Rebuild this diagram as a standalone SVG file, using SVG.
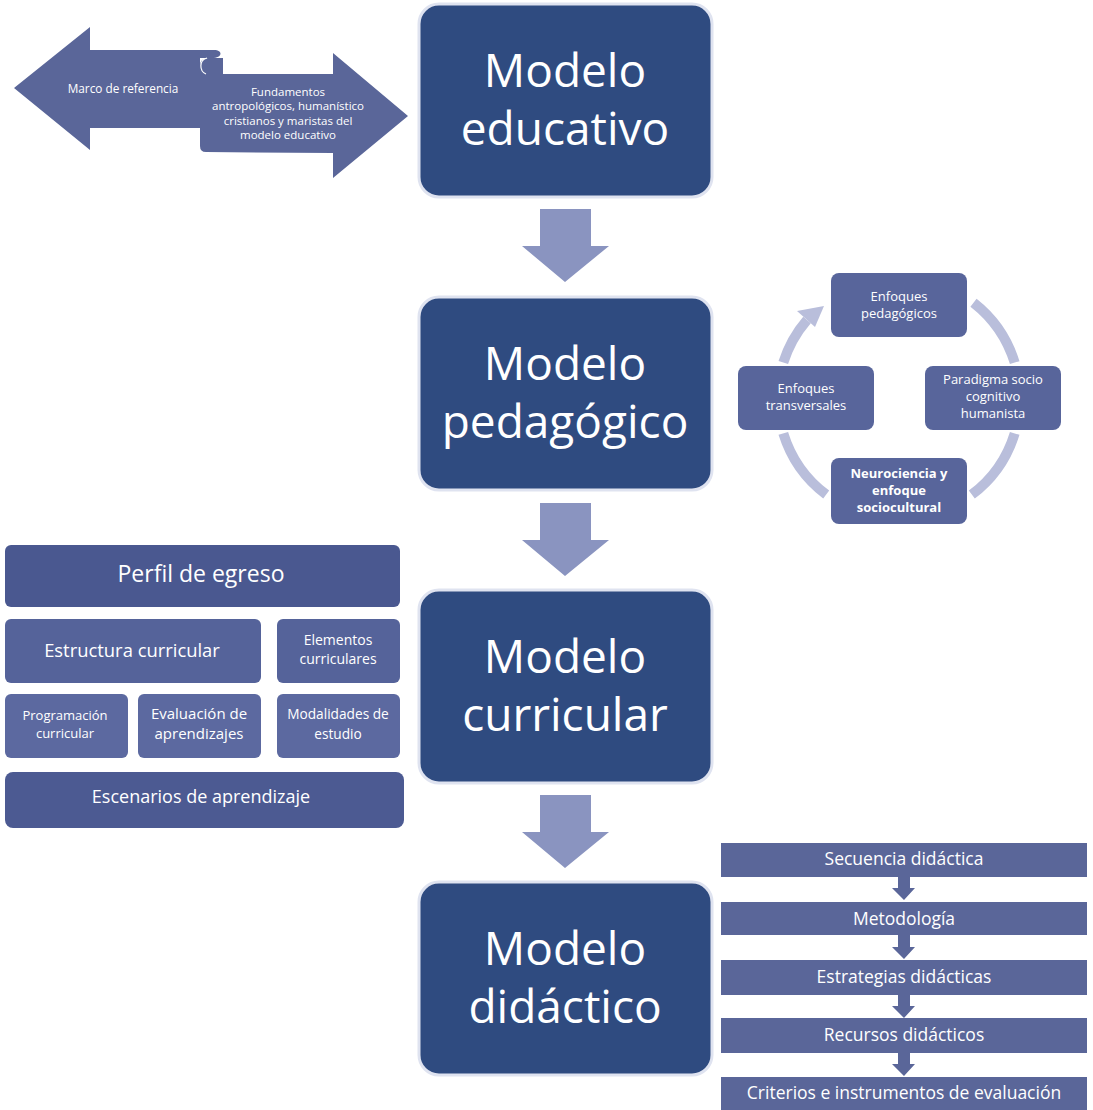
<svg xmlns="http://www.w3.org/2000/svg" width="1093" height="1110" viewBox="0 0 1093 1110">
<defs>
<style>
text{font-family:"Open Sans","Liberation Sans",sans-serif;fill:#ffffff;text-anchor:middle}
.main rect{fill:#2f4b80;stroke:#dfe3f0;stroke-width:3}
.main text{font-size:46px}
.down{fill:#8a94c0}
.cyc rect{fill:#58659b}
.cyc text{font-size:13px}
.cur rect{fill:#55639a}
.low rect{fill:#5c69a0}
.bar rect{fill:#5a6699}
.bar text{font-size:17.5px}
.sa{fill:#5a6699}
.arc{fill:none;stroke:#b9bedb;stroke-width:10}
</style>
</defs>
<rect width="1093" height="1110" fill="#ffffff"/>

<!-- scroll double arrow -->
<g id="marco">
<path class="sa" d="M14,88 L90,27 L90,50 L214,50 C223,50 223,58 212,58 L200,58 L200,128 L90,128 L90,150 Z"/>
<path class="sa" d="M200,66 C200,60 204,58 210,58 L223,58 L223,74 L333,74 L333,53 L408,116 L333,178 L333,153 L206,152 Q200,152 200,146 Z"/>
<path d="M207,58 C199,60 199,71 206,74" fill="none" stroke="#ffffff" stroke-width="1.2"/>
<text x="123" y="93" style="font-size:11.8px">Marco de referencia</text>
<text x="288" y="96" style="font-size:11.5px">Fundamentos</text>
<text x="288" y="110" style="font-size:11.5px">antropológicos, humanístico</text>
<text x="288" y="125" style="font-size:11.5px">cristianos y maristas del</text>
<text x="288" y="139" style="font-size:11.5px">modelo educativo</text>
</g>

<!-- main boxes -->
<g id="modelo-educativo" class="main">
<rect x="419" y="4" width="293" height="193" rx="20"/>
<text x="565" y="87">Modelo</text>
<text x="565" y="145">educativo</text>
</g>
<g id="modelo-pedagogico" class="main">
<rect x="419" y="297" width="293" height="193" rx="20"/>
<text x="565" y="380">Modelo</text>
<text x="565" y="438">pedagógico</text>
</g>
<g id="modelo-curricular" class="main">
<rect x="419" y="590" width="293" height="193" rx="20"/>
<text x="565" y="673">Modelo</text>
<text x="565" y="731">curricular</text>
</g>
<g id="modelo-didactico" class="main">
<rect x="419" y="882" width="293" height="193" rx="20"/>
<text x="565" y="965">Modelo</text>
<text x="565" y="1023">didáctico</text>
</g>

<!-- connectors -->
<g id="connectors">
<polygon class="down" points="540,209 591,209 591,246 609,246 565,282 522,246 540,246"/>
<polygon class="down" points="540,503 591,503 591,540 609,540 565,576 522,540 540,540"/>
<polygon class="down" points="540,795 591,795 591,832 609,832 565,868 522,832 540,832"/>
<path class="arc" d="M973.5,302.7 A121,121 0 0 1 1014.7,362.6"/>
<path class="arc" d="M1014.7,433.4 A121,121 0 0 1 971.8,494.6"/>
<path class="arc" d="M826.2,494.6 A121,121 0 0 1 783.3,433.4"/>
<path class="arc" d="M783.3,362.6 A121,121 0 0 1 807,320"/>
<polygon points="797,311 815,327 824,306" fill="#b9bedb"/>
<g fill="#5a6699">
<polygon points="898,877 910,877 910,888 915,888 904,900 892,888 898,888"/>
<polygon points="898,935 910,935 910,947 915,947 904,959 892,947 898,947"/>
<polygon points="898,995 910,995 910,1006 915,1006 904,1018 892,1006 898,1006"/>
<polygon points="898,1053 910,1053 910,1064 915,1064 904,1076 892,1064 898,1064"/>
</g>
</g>

<!-- cycle -->
<g id="enfoques-pedagogicos" class="cyc">
<rect x="831" y="273" width="136" height="64" rx="8"/>
<text x="899" y="301">Enfoques</text>
<text x="899" y="318">pedagógicos</text>
</g>
<g id="paradigma" class="cyc">
<rect x="925" y="366" width="136" height="64" rx="8"/>
<text x="993" y="384">Paradigma socio</text>
<text x="993" y="401">cognitivo</text>
<text x="993" y="418">humanista</text>
</g>
<g id="neurociencia" class="cyc">
<rect x="831" y="458" width="136" height="66" rx="8"/>
<text x="899" y="478" font-weight="bold">Neurociencia y</text>
<text x="899" y="495" font-weight="bold">enfoque</text>
<text x="899" y="512" font-weight="bold">sociocultural</text>
</g>
<g id="enfoques-transversales" class="cyc">
<rect x="738" y="366" width="136" height="64" rx="8"/>
<text x="806" y="393">Enfoques</text>
<text x="806" y="410">transversales</text>
</g>

<!-- curricular panel -->
<g id="perfil" class="cur">
<rect x="5" y="545" width="395" height="62" rx="6" style="fill:#4a5890"/>
<text x="201" y="582" style="font-size:23px">Perfil de egreso</text>
</g>
<g id="estructura" class="cur">
<rect x="5" y="619" width="256" height="64" rx="6"/>
<text x="132" y="657" style="font-size:18.4px">Estructura curricular</text>
</g>
<g id="elementos" class="cur">
<rect x="277" y="619" width="123" height="64" rx="6"/>
<text x="338" y="645" style="font-size:14px">Elementos</text>
<text x="338" y="664" style="font-size:14px">curriculares</text>
</g>
<g id="programacion" class="low">
<rect x="5" y="694" width="123" height="64" rx="6"/>
<text x="65" y="720" style="font-size:13px">Programación</text>
<text x="65" y="738" style="font-size:13px">curricular</text>
</g>
<g id="evaluacion" class="low">
<rect x="138" y="694" width="123" height="64" rx="6"/>
<text x="199" y="719" style="font-size:15px">Evaluación de</text>
<text x="199" y="739" style="font-size:15px">aprendizajes</text>
</g>
<g id="modalidades" class="low">
<rect x="277" y="694" width="123" height="64" rx="6"/>
<text x="338" y="719" style="font-size:13.7px">Modalidades de</text>
<text x="338" y="739" style="font-size:13.7px">estudio</text>
</g>
<g id="escenarios" class="cur">
<rect x="5" y="772" width="399" height="56" rx="8" style="fill:#4c5a92"/>
<text x="201" y="803" style="font-size:18px">Escenarios de aprendizaje</text>
</g>

<!-- didactic list -->
<g id="secuencia" class="bar">
<rect x="721" y="843" width="366" height="34"/>
<text x="904" y="865">Secuencia didáctica</text>
</g>
<g id="metodologia" class="bar">
<rect x="721" y="902" width="366" height="33"/>
<text x="904" y="925">Metodología</text>
</g>
<g id="estrategias" class="bar">
<rect x="721" y="960" width="366" height="35"/>
<text x="904" y="983">Estrategias didácticas</text>
</g>
<g id="recursos" class="bar">
<rect x="721" y="1018" width="366" height="35"/>
<text x="904" y="1041">Recursos didácticos</text>
</g>
<g id="criterios" class="bar">
<rect x="721" y="1077" width="366" height="33"/>
<text x="904" y="1099">Criterios e instrumentos de evaluación</text>
</g>
</svg>
